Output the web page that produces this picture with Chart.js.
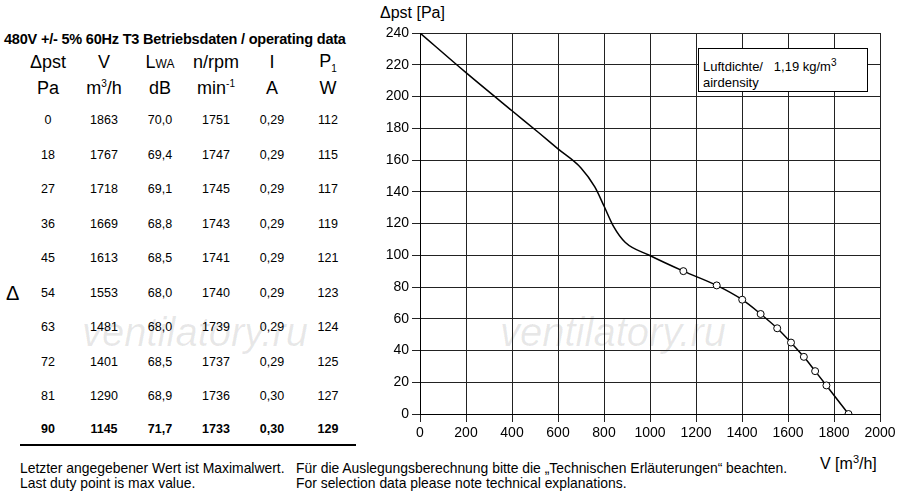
<!DOCTYPE html>
<html lang="de">
<head>
<meta charset="utf-8" />
<title></title>
<script src="https://cdn.jsdelivr.net/npm/chart.js@4.4.1/dist/chart.umd.min.js"></script>
<style>
  body { margin: 0; width: 900px; height: 500px; background: #fff; font-family: "Liberation Sans", Arial, sans-serif; position: relative; overflow: hidden; }
  #tbl { position: absolute; left: 4px; top: 31px; }
  #tbl .title { font-weight: bold; font-size: 14.5px; letter-spacing: -0.2px; }
  table { border-collapse: collapse; margin-left: 16px; margin-top: 2px; }
  td { text-align: center; padding: 0; height: 34.5px; width: 56px; font-size: 12.5px; }
  tr.h td { font-size: 18px; height: 26px; }
  tr.h2 td { padding-bottom: 2px; }
  tr.last td { font-weight: bold; border-bottom: 2px solid #000; height: 30px; }
  .wm { position: absolute; font-size: 40px; color: rgba(0,0,0,0.09); font-style: italic; }
  .foot { position: absolute; font-size: 13.9px; line-height: 15px; }
</style>
</head>
<body>
<div id="tbl">
  <div class="title">480V +/- 5% 60Hz T3 Betriebsdaten / operating data</div>
  <table id="t"></table>
</div>
<div style="position:absolute;left:6px;top:282px;font-size:20px;">Δ</div>
<div class="wm" style="left:82px;top:310px;">ventilatory.ru</div>
<div class="wm" style="left:500px;top:310px;">ventilatory.ru</div>
<div class="foot" style="left:20px;top:461px;">Letzter angegebener Wert ist Maximalwert.<br>Last duty point is max value.</div>
<div class="foot" style="left:296px;top:461px;">Für die Auslegungsberechnung bitte die „Technischen Erläuterungen“ beachten.<br>For selection data please note technical explanations.</div>
<div style="position:absolute;left:380px;top:4px;font-size:16px;">Δpst [Pa]</div>
<div style="position:absolute;left:820px;top:453px;font-size:16px;">V [m<sup style="font-size:11px">3</sup>/h]</div>
<div style="position:absolute;left:368px;top:0;width:532px;height:460px;"><canvas id="c"></canvas></div>
<div style="position:absolute;left:698px;top:48px;width:170px;height:44px;border:1px solid #000;background:#fff;font-size:13px;padding:6px 4px;box-sizing:border-box;line-height:16px;">
  Luftdichte/ &nbsp;&nbsp;1,19 kg/m<sup style="font-size:10px">3</sup><br>airdensity
</div>
<script>
const pst = [0, 18, 27, 36, 45, 54, 63, 72, 81, 90];
const flow = [1863, 1767, 1718, 1669, 1613, 1553, 1481, 1401, 1290, 1145];
const lwa = ["70,0", "69,4", "69,1", "68,8", "68,5", "68,0", "68,0", "68,5", "68,9", "71,7"];
const rpm = [1751, 1747, 1745, 1743, 1741, 1740, 1739, 1737, 1736, 1733];
const amps = ["0,29", "0,29", "0,29", "0,29", "0,29", "0,29", "0,29", "0,29", "0,30", "0,30"];
const power = [112, 115, 117, 119, 121, 123, 124, 125, 127, 129];
// upper part of the curve (no duty points)
const curveV = [0, 200, 400, 518, 600, 700, 760, 800, 842, 893, 997];
const curveP = [240, 215, 191, 177, 167, 155, 143, 131, 118, 108, 100];

let html = '<tr class="h"><td>Δpst</td><td>V</td><td>L<span style="font-size:12px">WA</span></td><td>n/rpm</td><td>I</td><td>P<sub style="font-size:10px">1</sub></td></tr>' +
  '<tr class="h h2"><td>Pa</td><td>m<sup style="font-size:10px">3</sup>/h</td><td>dB</td><td>min<sup style="font-size:10px">-1</sup></td><td>A</td><td>W</td></tr>';
for (let i = 0; i < pst.length; i++) {
  html += '<tr' + (i === pst.length - 1 ? ' class="last"' : '') + '><td>' + pst[i] + '</td><td>' + flow[i] + '</td><td>' + lwa[i] +
    '</td><td>' + rpm[i] + '</td><td>' + amps[i] + '</td><td>' + power[i] + '</td></tr>';
}
document.getElementById("t").innerHTML = html;

const pts = [];
const radii = [];
for (let i = 0; i < curveV.length; i++) { pts.push({x: curveV[i], y: curveP[i]}); radii.push(0); }
for (let i = pst.length - 1; i >= 0; i--) { pts.push({x: flow[i], y: pst[i]}); radii.push(3.5); }

new Chart(document.getElementById("c"), {
  type: "scatter",
  data: { datasets: [{
    data: pts, showLine: true, tension: 0.4, cubicInterpolationMode: "monotone",
    borderColor: "#000", borderWidth: 1.5, pointRadius: radii,
    pointBackgroundColor: "#fff", pointBorderColor: "#000", pointBorderWidth: 1
  }]},
  options: {
    responsive: true, maintainAspectRatio: false, animation: false,
    layout: { padding: { top: 33, right: 20, left: 0, bottom: 0 } },
    plugins: { legend: { display: false }, tooltip: { enabled: false } },
    scales: {
      x: { type: "linear", min: 0, max: 2000,
        afterFit: s => { s.height = 46; },
        ticks: { stepSize: 200, color: "#000", font: { size: 14, family: "Liberation Sans" }, callback: v => String(v) },
        grid: { color: "#222", lineWidth: 1 }, border: { color: "#000" } },
      y: { min: 0, max: 240,
        afterFit: s => { s.width = 52; },
        ticks: { stepSize: 20, color: "#000", font: { size: 14, family: "Liberation Sans" } },
        grid: { color: "#222", lineWidth: 1 }, border: { color: "#000" } }
    }
  }
});
</script>
</body>
</html>
